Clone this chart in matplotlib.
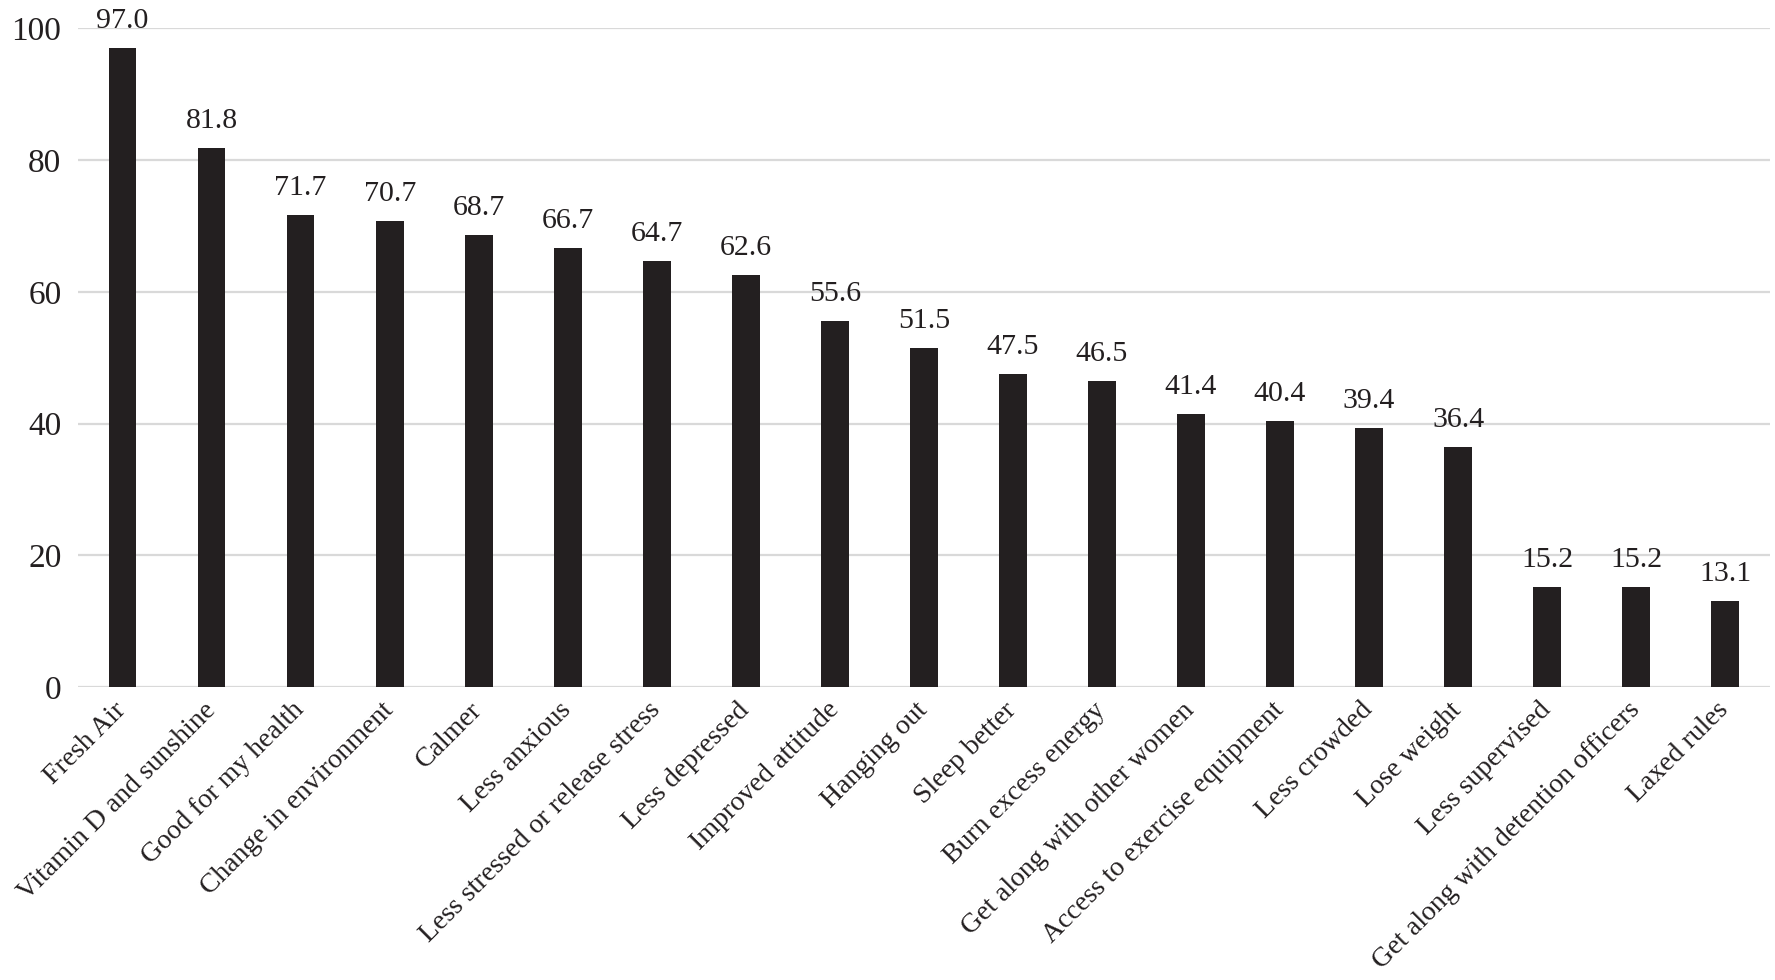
import matplotlib
matplotlib.use("Agg")
import matplotlib.pyplot as plt
import numpy as np

categories = [
    "Fresh Air", "Vitamin D and sunshine", "Good for my health",
    "Change in environment", "Calmer", "Less anxious",
    "Less stressed or release stress", "Less depressed", "Improved attitude",
    "Hanging out", "Sleep better", "Burn excess energy",
    "Get along with other women", "Access to exercise equipment",
    "Less crowded", "Lose weight", "Less supervised",
    "Get along with detention officers", "Laxed rules",
]
values = [97.0, 81.8, 71.7, 70.7, 68.7, 66.7, 64.7, 62.6, 55.6, 51.5,
          47.5, 46.5, 41.4, 40.4, 39.4, 36.4, 15.2, 15.2, 13.1]
yticks = [0, 20, 40, 60, 80, 100]

plt.rcParams["font.family"] = ["Liberation Serif", "DejaVu Serif"]

fig = plt.figure(figsize=(17.75, 9.8), dpi=100)
ax = fig.add_axes([0.044, 0.299, 0.953, 0.672])

x = np.arange(len(categories))
bars = ax.bar(x, values, width=0.31, color="#231f20", zorder=3)

for b, v in zip(bars, values):
    ax.annotate(f"{v:.1f}", (b.get_x() + b.get_width() / 2, v),
                xytext=(0, 10), textcoords="offset points",
                ha="center", va="bottom", fontsize=21.5, color="#231f20",
                annotation_clip=False)

ax.set_xlim(-0.5, len(categories) - 0.5)
ax.set_ylim(0, 100)
ax.set_yticks(yticks)
ax.set_yticklabels([str(t) for t in yticks], fontsize=24, color="#231f20")
ax.set_xticks(x)
ax.set_xticklabels(categories, rotation=45, ha="right", va="center",
                   rotation_mode="anchor", fontsize=20, color="#231f20")
ax.tick_params(axis="both", length=0)
ax.tick_params(axis="x", pad=14)
ax.tick_params(axis="y", pad=12)
ax.yaxis.grid(True, color="#d9d9d9", lw=1.6, zorder=0)
for s in ax.spines.values():
    s.set_visible(False)

fig.savefig("out.png", dpi=100)
